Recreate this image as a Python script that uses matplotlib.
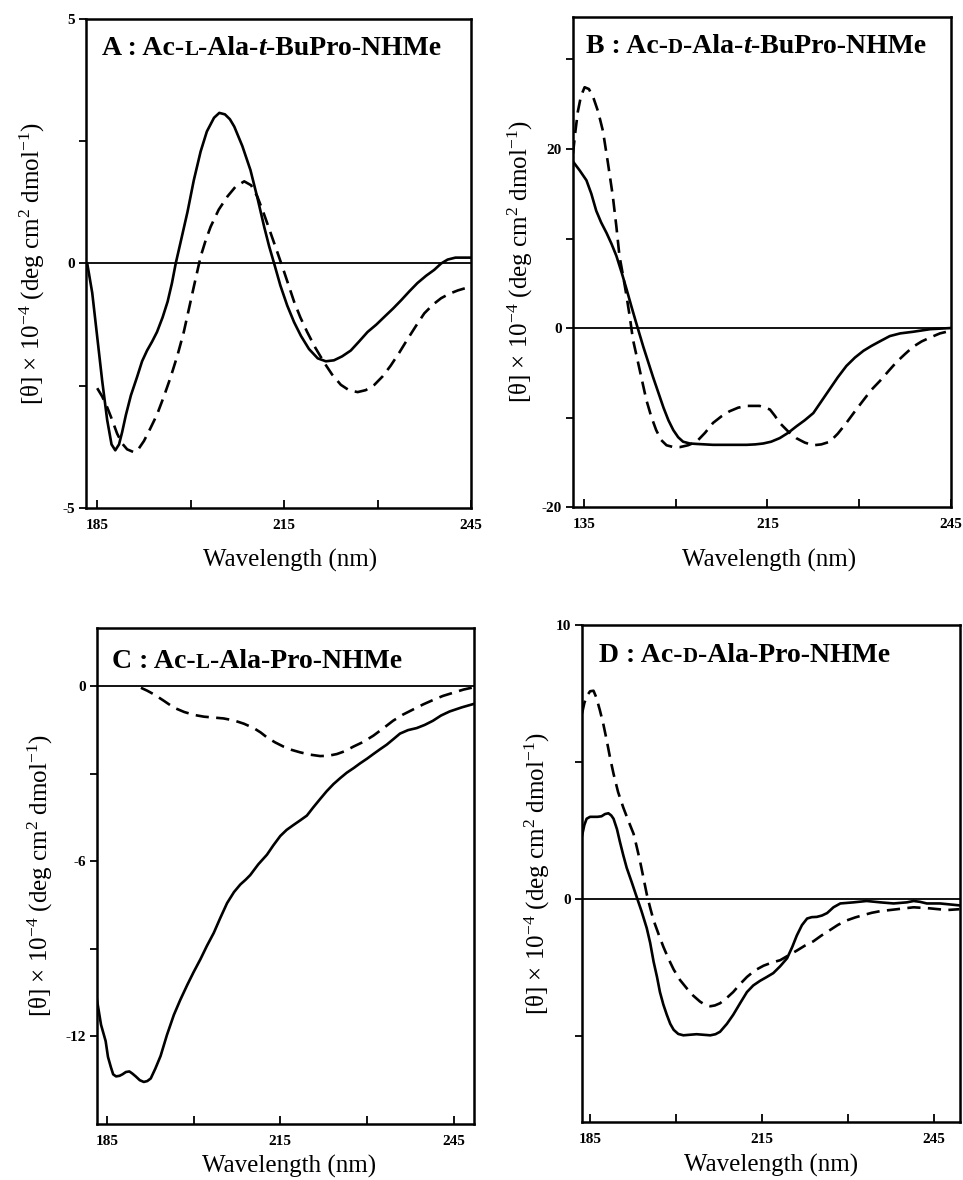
import matplotlib
matplotlib.use('Agg')
import matplotlib.pyplot as plt
from matplotlib.offsetbox import TextArea, HPacker, AnchoredOffsetbox

plt.rcParams['font.family'] = ['Liberation Serif', 'DejaVu Serif']
plt.rcParams['mathtext.fontset'] = 'custom'
plt.rcParams['mathtext.rm'] = 'Liberation Serif'
plt.rcParams['mathtext.it'] = 'Liberation Serif:italic'
plt.rcParams['mathtext.bf'] = 'Liberation Serif:bold'
plt.rcParams['axes.unicode_minus'] = False

# ---- data (wavelength nm, [theta] x 1e-4) ----
# A : Ac-L-Ala-t-BuPro-NHMe
a_solid_x = [183.4, 184.2, 185.0, 185.8, 186.6, 187.3, 187.9, 188.5, 189.0, 189.6, 190.4, 191.4,
             192.2, 193.0, 193.8, 194.6, 195.5, 196.3, 197.0, 197.6, 198.5, 199.5, 200.5, 201.6,
             202.6, 203.75, 204.6, 205.5, 206.3, 207.0, 208.3, 209.6, 210.7, 211.8, 212.6, 213.4,
             214.4, 215.5, 216.6, 217.7, 219.0, 220.4, 221.7, 223.0, 224.3, 225.7, 227.0, 228.4,
             229.8, 231.1, 232.5, 233.8, 235.1, 236.4, 237.8, 239.1, 240.2, 241.25, 242.5, 245.0]
a_solid_y = [0.0, -0.6, -1.5, -2.4, -3.2, -3.7, -3.82, -3.7, -3.45, -3.1, -2.7, -2.32,
             -2.0, -1.78, -1.6, -1.4, -1.1, -0.78, -0.4, 0.0, 0.5, 1.06, 1.7, 2.29,
             2.7, 2.98, 3.08, 3.05, 2.95, 2.8, 2.4, 1.91, 1.35, 0.75, 0.35, 0.0,
             -0.45, -0.86, -1.2, -1.48, -1.75, -1.94, -2.0, -1.98, -1.9, -1.78, -1.6, -1.4,
             -1.25, -1.09, -0.92, -0.75, -0.57, -0.4, -0.25, -0.13, 0.0, 0.08, 0.12, 0.12]
a_dash_x = [185.0, 185.8, 186.6, 187.4, 188.2, 189.0, 189.8, 190.9, 191.7, 192.5, 193.5, 194.6,
            195.7, 196.8, 197.9, 198.9, 199.7, 200.5, 201.6, 202.4, 203.2, 204.5, 205.9, 207.2,
            208.6, 209.7, 210.7, 211.8, 212.9, 214.0, 215.0, 216.6, 217.6, 218.7, 220.0, 221.4,
            222.7, 224.1, 225.4, 226.8, 228.1, 229.5, 230.8, 232.1, 233.5, 234.8, 236.2, 237.5,
            238.9, 240.2, 241.5, 242.9, 245.0]
a_dash_y = [-2.55, -2.72, -2.94, -3.2, -3.48, -3.68, -3.8, -3.86, -3.78, -3.63, -3.38, -3.09,
            -2.72, -2.32, -1.87, -1.4, -0.94, -0.48, 0.14, 0.47, 0.75, 1.1, 1.37, 1.57,
            1.68, 1.6, 1.37, 1.0, 0.6, 0.2, -0.17, -0.78, -1.1, -1.4, -1.72, -2.02,
            -2.27, -2.48, -2.59, -2.63, -2.59, -2.48, -2.31, -2.09, -1.82, -1.55, -1.27, -1.02,
            -0.84, -0.71, -0.62, -0.55, -0.47]

# B : Ac-D-Ala-t-BuPro-NHMe
b_solid_x = [183.2, 184.3, 185.4, 186.2, 187.0, 187.8, 188.7, 189.5, 190.3, 191.2, 192.0, 192.8,
             193.6, 194.7, 195.5, 196.3, 197.2, 198.0, 198.8, 199.6, 200.4, 201.2, 202.3, 203.4,
             206.1, 208.8, 211.6, 213.0, 214.3, 215.6, 217.0, 218.4, 219.7, 221.1, 222.5, 223.8,
             225.2, 226.5, 227.9, 229.3, 230.7, 232.0, 233.4, 235.0, 236.7, 238.8, 241.6, 245.0]
b_solid_y = [18.6, 17.6, 16.5, 15.0, 13.1, 11.8, 10.6, 9.4, 8.05, 6.1, 4.24, 2.3,
             0.42, -2.1, -3.8, -5.5, -7.3, -8.9, -10.3, -11.4, -12.2, -12.7, -12.9, -12.95,
             -13.05, -13.05, -13.05, -13.0, -12.9, -12.7, -12.3, -11.7, -11.0, -10.3, -9.5, -8.2,
             -6.8, -5.5, -4.24, -3.3, -2.54, -2.0, -1.48, -0.9, -0.6, -0.42, -0.13, 0.0]
b_dash_x = [183.2, 183.6, 184.0, 184.5, 185.1, 185.8, 186.5, 187.3, 188.1, 188.9, 189.7, 190.3,
            190.8, 191.4, 191.9, 192.5, 193.0, 194.1, 195.2, 196.0, 196.8, 197.6, 198.5, 199.6,
            200.7, 202.0, 203.4, 204.8, 206.1, 207.5, 208.8, 210.2, 211.6, 213.7, 215.4, 216.2,
            217.0, 218.3, 219.7, 221.1, 222.5, 223.8, 225.2, 226.5, 227.9, 229.3, 230.7, 232.0,
            233.4, 234.8, 236.1, 237.5, 238.8, 240.2, 241.6, 243.2, 245.0]
b_dash_y = [19.5, 22.0, 24.2, 25.9, 26.9, 26.7, 25.8, 24.2, 22.0, 18.5, 14.8, 11.3,
            8.05, 5.8, 3.8, 1.2, -1.27, -4.66, -8.05, -9.9, -11.4, -12.5, -13.1, -13.3,
            -13.3, -13.1, -12.7, -11.7, -10.6, -9.85, -9.3, -8.9, -8.7, -8.7, -9.1, -9.8,
            -10.6, -11.5, -12.3, -12.8, -13.1, -13.0, -12.7, -11.8, -10.6, -9.3, -8.05, -6.9,
            -5.9, -4.8, -3.8, -2.9, -2.1, -1.5, -1.06, -0.6, -0.3]

# C : Ac-L-Ala-Pro-NHMe
c_solid_x = [183.3, 184.0, 184.8, 185.2, 185.7, 186.1, 186.6, 187.2, 187.7, 188.3, 188.9, 189.4,
             190.0, 190.7, 191.4, 192.0, 192.6, 193.4, 194.3, 195.4, 196.6, 197.7, 198.9, 200.0,
             201.2, 202.3, 203.5, 204.6, 205.8, 207.0, 208.1, 209.0, 209.8, 211.2, 212.7, 213.8,
             215.0, 216.1, 217.3, 218.4, 219.6, 220.7, 221.9, 223.0, 224.2, 225.4, 226.5, 227.7,
             228.8, 230.0, 231.1, 232.3, 233.4, 234.5, 235.7, 237.1, 238.6, 240.0, 241.4, 242.8,
             244.3, 246.4, 248.5]
c_solid_y = [-10.75, -11.6, -12.16, -12.7, -13.05, -13.3, -13.37, -13.35, -13.3, -13.22, -13.2, -13.27,
             -13.37, -13.5, -13.56, -13.53, -13.44, -13.1, -12.67, -11.95, -11.26, -10.75, -10.24, -9.8,
             -9.35, -8.9, -8.45, -7.95, -7.43, -7.05, -6.79, -6.63, -6.47, -6.1, -5.77, -5.45,
             -5.13, -4.92, -4.75, -4.6, -4.43, -4.15, -3.86, -3.6, -3.35, -3.14, -2.96, -2.8,
             -2.64, -2.48, -2.32, -2.15, -2.0, -1.82, -1.62, -1.5, -1.43, -1.32, -1.18, -1.0,
             -0.86, -0.72, -0.6]
c_dash_x = [190.9, 192.0, 193.2, 194.9, 196.6, 198.4, 200.1, 201.8, 203.5, 205.2, 207.0, 208.7,
            210.4, 211.6, 212.7, 214.1, 215.6, 217.0, 218.4, 220.1, 221.9, 223.3, 224.8, 226.2,
            227.6, 229.4, 231.1, 232.8, 234.5, 236.2, 238.0, 239.7, 241.4, 243.1, 244.9, 246.7,
            248.5]
c_dash_y = [-0.05, -0.15, -0.28, -0.5, -0.73, -0.88, -0.98, -1.04, -1.07, -1.1, -1.17, -1.28,
            -1.43, -1.58, -1.75, -1.92, -2.07, -2.18, -2.26, -2.34, -2.39, -2.38, -2.32, -2.22,
            -2.07, -1.9, -1.69, -1.44, -1.18, -0.97, -0.79, -0.62, -0.47, -0.33, -0.22, -0.11,
            -0.03]

# D : Ac-D-Ala-Pro-NHMe
d_solid_x = [183.6, 184.0, 184.4, 185.0, 185.6, 186.3, 187.0, 187.6, 188.2, 188.7, 189.1, 189.7,
             190.2, 190.8, 191.4, 192.3, 193.2, 194.0, 194.9, 195.5, 196.1, 196.7, 197.2, 197.8,
             198.4, 199.0, 199.6, 200.4, 201.3, 202.4, 203.6, 204.8, 206.0, 206.9, 207.7, 208.9,
             210.0, 211.2, 212.4, 213.5, 214.7, 215.8, 217.0, 218.2, 219.4, 220.3, 221.1, 222.0,
             222.9, 223.7, 224.6, 225.5, 226.4, 227.5, 228.7, 231.0, 233.3, 235.7, 238.0, 240.3,
             241.5, 242.6, 243.8, 246.1, 249.5]
d_solid_y = [2.31, 2.7, 2.93, 3.0, 3.0, 3.0, 3.02, 3.1, 3.13, 3.05, 2.93, 2.55,
             2.1, 1.6, 1.14, 0.6, 0.04, -0.45, -1.06, -1.6, -2.29, -2.85, -3.39, -3.85,
             -4.22, -4.55, -4.77, -4.92, -4.97, -4.95, -4.93, -4.95, -4.97, -4.93, -4.84, -4.55,
             -4.22, -3.8, -3.39, -3.15, -2.98, -2.85, -2.7, -2.45, -2.16, -1.75, -1.33, -0.95,
             -0.71, -0.66, -0.65, -0.6, -0.51, -0.3, -0.16, -0.12, -0.07, -0.12, -0.16, -0.12,
             -0.07, -0.1, -0.16, -0.16, -0.23]
d_dash_x = [183.6, 184.0, 184.4, 185.0, 185.6, 186.1, 186.7, 187.3, 187.9, 188.5, 189.1, 189.9,
            190.8, 191.7, 192.6, 193.1, 193.7, 194.3, 194.9, 195.5, 196.1, 197.0, 197.8, 198.7,
            199.6, 200.7, 201.9, 203.0, 204.2, 205.1, 206.0, 206.8, 207.7, 208.8, 210.0, 211.2,
            212.4, 213.8, 215.3, 216.7, 218.2, 219.6, 221.1, 222.5, 224.0, 225.4, 226.9, 228.3,
            229.8, 231.3, 232.8, 234.2, 235.7, 238.6, 241.5, 244.4, 247.3, 249.5]
d_dash_y = [6.77, 7.15, 7.39, 7.58, 7.6, 7.35, 6.9, 6.4, 5.8, 5.15, 4.57, 3.9,
            3.34, 2.85, 2.38, 1.95, 1.41, 0.8, 0.18, -0.32, -0.78, -1.3, -1.74, -2.18,
            -2.57, -2.95, -3.26, -3.52, -3.74, -3.86, -3.91, -3.88, -3.8, -3.62, -3.39, -3.1,
            -2.84, -2.6, -2.43, -2.32, -2.23, -2.06, -1.88, -1.7, -1.54, -1.33, -1.13, -0.94,
            -0.78, -0.67, -0.58, -0.5, -0.44, -0.37, -0.3, -0.34, -0.4, -0.37]

# tick values and labels
a_yticks, a_ylabels = [-5, 0, 5], ['-5', '0', '5']
b_yticks, b_ylabels = [-20, 0, 20], ['-20', '0', '20']
c_yticks, c_ylabels = [-12, -6, 0], ['-12', '-6', '0']
d_yticks, d_ylabels = [0, 10], ['0', '10']
a_yminor, b_yminor, c_yminor, d_yminor = [-2.5, 2.5], [-10, 10, 30], [-9, -3], [-5, 5]
xticks = [185, 215, 245]
xminor = [200, 230]
xlabels = ['185', '215', '245']
b_xlabels = ['135', '215', '245']

titles = {
    'A': [('A : Ac-', 'n'), ('L', 's'), ('-Ala-', 'n'), ('t', 'i'), ('-BuPro-NHMe', 'n')],
    'B': [('B : Ac-', 'n'), ('D', 's'), ('-Ala-', 'n'), ('t', 'i'), ('-BuPro-NHMe', 'n')],
    'C': [('C : Ac-', 'n'), ('L', 's'), ('-Ala-Pro-NHMe', 'n')],
    'D': [('D : Ac-', 'n'), ('D', 's'), ('-Ala-Pro-NHMe', 'n')],
}

ylab = r'[θ] × 10$^{-4}$ (deg cm$^{2}$ dmol$^{-1}$)'

fig = plt.figure(figsize=(9.63, 11.8), dpi=100)


def make_title(ax, parts, x, y):
    # title with small-caps L/D and italic t, glued on a common baseline
    areas = []
    for s, kind in parts:
        props = dict(fontweight='bold', fontsize=20, color='black')
        if kind == 's':
            props['fontsize'] = 15
        if kind == 'i':
            props['fontstyle'] = 'italic'
        areas.append(TextArea(s, textprops=props))
    box = HPacker(children=areas, align='baseline', pad=0, sep=0)
    ab = AnchoredOffsetbox(loc='lower left', child=box, pad=0, borderpad=0, frameon=False,
                           bbox_to_anchor=(x, y), bbox_transform=ax.transAxes)
    ax.add_artist(ab)


def panel(rect, sx, sy, dx, dy, xlim, ylim, yt, yl, ym, xl, key, ylx, xly, xlx, tx, ty):
    ax = fig.add_axes(rect)
    ax.axhline(0, color='black', lw=1.3)
    ax.plot(sx, sy, color='black', lw=1.9)
    ax.plot(dx, dy, color='black', lw=1.9, dashes=(5, 2.8))
    ax.set_xlim(xlim)
    ax.set_ylim(ylim)
    ax.set_xticks(xticks)
    ax.set_xticklabels(xl)
    ax.set_xticks(xminor, minor=True)
    ax.set_yticks(yt)
    ax.set_yticklabels(yl)
    ax.set_yticks(ym, minor=True)
    ax.tick_params(axis='x', which='both', direction='in', length=6, width=1.3, pad=8,
                   labelsize=11)
    ax.tick_params(axis='y', which='both', direction='out', length=5, width=1.3, pad=3,
                   labelsize=11)
    for lab in ax.get_xticklabels() + ax.get_yticklabels():
        lab.set_fontweight('bold')
    for sp in ax.spines.values():
        sp.set_linewidth(1.8)
    ax.set_xlabel('Wavelength (nm)', fontsize=18, va='center')
    ax.xaxis.set_label_coords(xlx, xly)
    ax.set_ylabel(ylab, fontsize=18, va='center')
    ax.yaxis.set_label_coords(ylx, 0.5)
    make_title(ax, titles[key], tx, ty)
    return ax


panel([0.0893, 0.5695, 0.3998, 0.4144], a_solid_x, a_solid_y, a_dash_x, a_dash_y,
      (183.2, 245), (-5, 5), a_yticks, a_ylabels, a_yminor, xlabels, 'A',
      -0.138, -0.108, 0.53, 0.042, 1 - 42 / 489)
panel([0.5950, 0.5703, 0.3925, 0.4157], b_solid_x, b_solid_y, b_dash_x, b_dash_y,
      (183.2, 245), (-20, 34.8), b_yticks, b_ylabels, b_yminor, b_xlabels, 'B',
      -0.140, -0.108, 0.52, 0.034, 1 - 42.5 / 490)
panel([0.1007, 0.0475, 0.3915, 0.4203], c_solid_x, c_solid_y, c_dash_x, c_dash_y,
      (183.3, 248.5), (-15, 2), c_yticks, c_ylabels, c_yminor, xlabels, 'C',
      -0.151, -0.085, 0.51, 0.04, 1 - 46 / 496)
panel([0.6044, 0.0492, 0.3925, 0.4212], d_solid_x, d_solid_y, d_dash_x, d_dash_y,
      (183.6, 249.6), (-8.13, 10), d_yticks, d_ylabels, d_yminor, xlabels, 'D',
      -0.119, -0.087, 0.5, 0.045, 1 - 43 / 497)

fig.savefig('out.png', dpi=100, facecolor='white')
